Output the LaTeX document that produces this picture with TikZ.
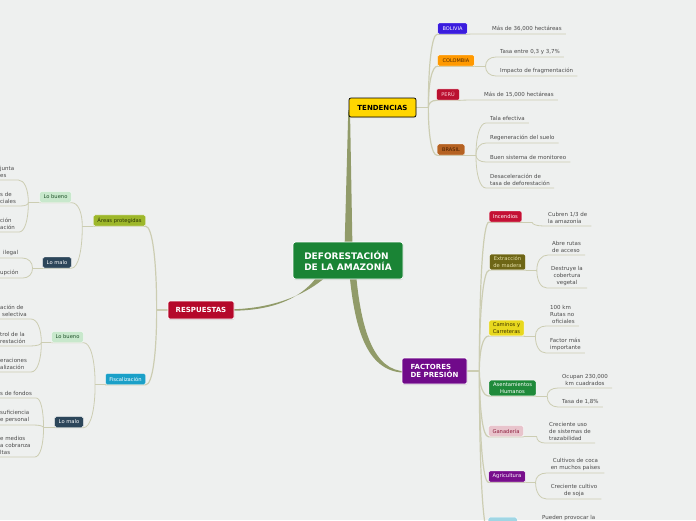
\documentclass[tikz,border=0pt]{standalone}
\usepackage{fontspec}
\setmainfont{DejaVu Sans}
\usetikzlibrary{calc,shadows}

\definecolor{bgc}{RGB}{238,240,239}
\definecolor{trunkc}{RGB}{145,155,105}
\definecolor{lnc}{RGB}{204,205,178}
\definecolor{leafc}{RGB}{75,75,75}
\definecolor{rootc}{RGB}{26,132,53}
\definecolor{tendc}{RGB}{255,214,0}
\definecolor{respc}{RGB}{181,8,42}
\definecolor{factc}{RGB}{112,10,138}
\definecolor{bolc}{RGB}{58,28,222}
\definecolor{colc}{RGB}{255,153,0}
\definecolor{perc}{RGB}{186,16,48}
\definecolor{brac}{RGB}{181,98,34}
\definecolor{incc}{RGB}{196,16,52}
\definecolor{extc}{RGB}{110,102,22}
\definecolor{camc}{RGB}{232,216,30}
\definecolor{asec}{RGB}{31,138,58}
\definecolor{ganc}{RGB}{232,196,204}
\definecolor{agrc}{RGB}{120,14,140}
\definecolor{cyac}{RGB}{160,214,228}
\definecolor{areac}{RGB}{157,183,42}
\definecolor{fisc}{RGB}{26,160,200}
\definecolor{buec}{RGB}{200,232,204}
\definecolor{malc}{RGB}{44,70,90}

\pgfdeclarelayer{bg}
\pgfsetlayers{bg,main}

\begin{document}
\begin{tikzpicture}
  [x=1pt, y=-1pt,
   root/.style={rounded corners=2.5pt, draw=white, line width=0.8pt, text=white,
     font=\fontsize{9}{11}\selectfont\bfseries, align=left,
     minimum width=110pt, minimum height=37pt,
     drop shadow={opacity=.2, shadow xshift=.4pt, shadow yshift=-1pt}},
   topic/.style={rounded corners=2pt, draw=white, line width=0.7pt, text=white,
     font=\fontsize{7}{8.5}\selectfont\bfseries, align=left,
     drop shadow={opacity=.2, shadow xshift=.4pt, shadow yshift=-1pt}},
   ctry/.style={rounded corners=1.5pt, draw=white, line width=0.4pt,
     font=\fontsize{5}{6}\selectfont, inner xsep=5pt, minimum height=11pt},
   sub/.style={rounded corners=1.5pt, draw=white, line width=0.4pt,
     font=\fontsize{5.2}{6.4}\selectfont, align=center,
     inner xsep=4pt, inner ysep=2.6pt, minimum height=11pt},
   leaf/.style={font=\fontsize{5.5}{6.8}\selectfont, text=leafc, align=left,
     inner xsep=4pt, inner ysep=2.5pt},
   bough/.style={draw=lnc, line width=1.2pt},
   twig/.style={draw=lnc, line width=0.8pt}]

  \useasboundingbox (0,0) rectangle (696,520);

  % centre and main topics
  \node[root, fill=rootc] (root) at (348,260.5) {DEFORESTACIÓN\\DE LA AMAZONÍA};
  \node[topic, fill=tendc, draw=black, text=black, align=center,
        minimum width=67pt, minimum height=19pt] (tend) at (382.5,107.5) {TENDENCIAS};
  \node[topic, fill=respc, align=center, minimum width=66pt, minimum height=18pt]
        (resp) at (201,310) {RESPUESTAS};
  \node[topic, fill=factc, minimum width=65pt, minimum height=26pt]
        (fact) at (434.5,371) {FACTORES\\DE PRESIÓN};

  % tendencias
  \node[ctry, fill=bolc, text=white] (bol) at (452.5,28.5) {BOLIVIA};
  \node[ctry, fill=colc, text={rgb,255:red,80;green,40;blue,0}] (col) at (456,60.5) {COLOMBIA};
  \node[ctry, fill=perc, text={rgb,255:red,255;green,210;blue,220}] (per) at (448,94.5) {PERÚ};
  \node[ctry, fill=brac, text={rgb,255:red,70;green,30;blue,0}] (bra) at (451,149.5) {BRASIL};

  \node[leaf, anchor=south west] (lBol) at (488,34) {Más de 36,000 hectáreas};
  \node[leaf, anchor=south west] (lCol1) at (496,57) {Tasa entre 0,3 y 3,7\%};
  \node[leaf, anchor=south west] (lCol2) at (496,76) {Impacto de fragmentación};
  \node[leaf, anchor=south west] (lPer) at (480,100) {Más de 15,000 hectáreas};
  \node[leaf, anchor=south west] (lBra1) at (486,123) {Tala efectiva};
  \node[leaf, anchor=south west] (lBra2) at (486,143) {Regeneración del suelo};
  \node[leaf, anchor=south west] (lBra3) at (486,162) {Buen sistema de monitoreo};
  \node[leaf, anchor=south west] (lBra4) at (486,188) {Desaceleración de\\tasa de deforestación};

  % factores de presion
  \node[sub, fill=incc, text=white] (inc) at (505.5,216.5) {Incendios};
  \node[sub, fill=extc, text={rgb,255:red,230;green,225;blue,170}] (ext) at (507.5,262) {Extracción\\de madera};
  \node[sub, fill=camc, text={rgb,255:red,60;green,50;blue,0}] (cam) at (506.5,328) {Caminos y\\Carreteras};
  \node[sub, fill=asec, text=white] (ase) at (512.5,388) {Asentamientos\\Humanos};
  \node[sub, fill=ganc, text={rgb,255:red,140;green,30;blue,60}] (gan) at (506,431) {Ganadería};
  \node[sub, fill=agrc, text=white] (agr) at (507,476.5) {Agricultura};
  \node[sub, fill=cyac, anchor=north west, minimum width=29pt, minimum height=14pt] (cya) at (488,517) {};

  \node[leaf, anchor=south west] (lInc) at (544,226) {Cubren 1/3 de\\la amazonía};
  \node[leaf, anchor=south west] (lExt1) at (548,255) {Abre rutas\\de acceso};
  \node[leaf, anchor=south, align=center] (lExt2) at (567,288) {Destruye la\\cobertura\\vegetal};
  \node[leaf, anchor=south west] (lCam1) at (546,326) {100 km\\Rutas no\\\hspace*{2pt}oficiales};
  \node[leaf, anchor=south west] (lCam2) at (546,353) {Factor más\\importante};
  \node[leaf, anchor=south, align=center] (lAse1) at (585,388) {Ocupan 230,000\\km cuadrados};
  \node[leaf, anchor=south west] (lAse2) at (558,407) {Tasa de 1,8\%};
  \node[leaf, anchor=south west] (lGan) at (545,443) {Creciente uso\\de sistemas de\\trazabilidad};
  \node[leaf, anchor=south, align=center] (lAgr1) at (575.5,473) {Cultivos de coca\\en muchos países};
  \node[leaf, anchor=south, align=center] (lAgr2) at (574,499) {Creciente cultivo\\de soja};
  \node[leaf, anchor=north west] (lCya) at (538,512.5) {Pueden provocar la};

  % respuestas
  \node[sub, fill=areac, text={rgb,255:red,40;green,50;blue,0}] (area) at (119.5,220.5) {Áreas protegidas};
  \node[sub, fill=fisc, text=white] (fisc) at (125.5,379) {Fiscalización};
  \node[sub, fill=buec, text={rgb,255:red,30;green,80;blue,40}] (abue) at (55.5,197) {Lo bueno};
  \node[sub, fill=malc, text=white] (amal) at (57,262.5) {Lo malo};
  \node[sub, fill=buec, text={rgb,255:red,30;green,80;blue,40}] (fbue) at (67.5,337) {Lo bueno};
  \node[sub, fill=malc, text=white] (fmal) at (69,422) {Lo malo};

  \node[leaf, anchor=south west] (lAbue1) at (-4,180) {junta\\es};
  \node[leaf, anchor=south west] (lAbue2) at (-4,206) {s de\\ciales};
  \node[leaf, anchor=south west] (lAbue3) at (-4,232) {ción\\ación};
  \node[leaf, anchor=south west] (lAmal1) at (-1,258) {ilegal};
  \node[leaf, anchor=south west] (lAmal2) at (-4,278) {upción};
  \node[leaf, anchor=south west] (lFbue1) at (-4,319) {ación de\\\hspace*{2pt}selectiva};
  \node[leaf, anchor=south west] (lFbue2) at (-4,346) {trol de la\\restación};
  \node[leaf, anchor=south west] (lFbue3) at (-4,372) {eraciones\\alización};
  \node[leaf, anchor=south west] (lFmal1) at (-4,398) {s de fondos};
  \node[leaf, anchor=south west] (lFmal2) at (-4,425) {suficiencia\\e personal};
  \node[leaf, anchor=south west] (lFmal3) at (-4,457) {e medios\\a cobranza\\ltas};

  % forks
  \coordinate (jT) at ($(tend.east)+(12,0)$);
  \coordinate (jF) at ($(fact.east)+(12,0)$);
  \coordinate (jR) at ($(resp.west)+(-11,0)$);
  \coordinate (jBol) at (bol.south east);
  \coordinate (jPer) at (per.south east);
  \coordinate (jCol) at ($(col.south east)+(11,0)$);
  \coordinate (jBra) at ($(bra.south east)+(11,0)$);
  \coordinate (jInc) at ($(inc.south east)+(10,0)$);
  \coordinate (jExt) at ($(ext.south east)+(11,0)$);
  \coordinate (jCam) at ($(cam.south east)+(11,0)$);
  \coordinate (jAse) at ($(ase.south east)+(11,0)$);
  \coordinate (jGan) at ($(gan.south east)+(13,0)$);
  \coordinate (jAgr) at ($(agr.south east)+(10,0)$);
  \coordinate (jCya) at ($(cya.south east)+(11,0)$);
  \coordinate (jArea) at ($(area.south west)+(-11,0)$);
  \coordinate (jFis) at ($(fisc.south west)+(-10,0)$);
  \coordinate (jAbue) at ($(abue.south west)+(-11,0)$);
  \coordinate (jAmal) at ($(amal.south west)+(-10,0)$);
  \coordinate (jFbue) at ($(fbue.south west)+(-10,0)$);
  \coordinate (jFmal) at ($(fmal.south west)+(-11,0)$);

  \begin{pgfonlayer}{bg}
    \fill[bgc] (0,0) rectangle (696,520);

    % tapered trunks from the centre
    \fill[trunkc] (344.5,250) -- (352.5,250) -- (350,110) -- (348.3,110) -- cycle;
    \fill[trunkc] (329,274) .. controls (305,297) and (268,309.3) .. (228,309.3)
      -- (228,310.7) .. controls (266,311.2) and (300,302) .. (319,274) -- cycle;
    \fill[trunkc] (349.5,274) .. controls (355,332) and (368,372.7) .. (406,372.7)
      -- (406,371.3) .. controls (373,371.3) and (361,328) .. (356,274) -- cycle;

    \draw[bough] (tend.east) -- (jT);
    \draw[bough] (fact.east) -- (jF);
    \draw[bough] (resp.west) -- (jR);

    % right hand side
    \foreach \fk/\ch in {jT/bol, jT/col, jT/per, jT/bra,
                         jF/inc, jF/ext, jF/cam, jF/ase, jF/gan, jF/agr, jF/cya}
      \draw[bough] (\fk) .. controls ($(\fk)!.6!(\fk|-\ch.south west)$)
        and ($(\fk|-\ch.south west)!.4!(\ch.south west)$) .. (\ch.south west) -- (\ch.south east);

    \foreach \ch/\fk in {col/jCol, bra/jBra, inc/jInc, ext/jExt, cam/jCam,
                         ase/jAse, gan/jGan, agr/jAgr, cya/jCya}
      \draw[twig] (\ch.south east) -- (\fk);

    \foreach \fk/\ch in {jBol/lBol, jCol/lCol1, jCol/lCol2, jPer/lPer,
                         jBra/lBra1, jBra/lBra2, jBra/lBra3, jBra/lBra4,
                         jInc/lInc, jExt/lExt1, jExt/lExt2, jCam/lCam1, jCam/lCam2,
                         jAse/lAse1, jAse/lAse2, jGan/lGan, jAgr/lAgr1, jAgr/lAgr2, jCya/lCya}
      \draw[twig] (\fk) .. controls ($(\fk)!.6!(\fk|-\ch.south west)$)
        and ($(\fk|-\ch.south west)!.4!(\ch.south west)$) .. (\ch.south west) -- (\ch.south east);

    % left hand side
    \foreach \fk/\ch in {jR/area, jR/fisc}
      \draw[bough] (\fk) .. controls ($(\fk)!.6!(\fk|-\ch.south east)$)
        and ($(\fk|-\ch.south east)!.4!(\ch.south east)$) .. (\ch.south east) -- (\ch.south west);

    \foreach \ch/\fk in {area/jArea, fisc/jFis, abue/jAbue, amal/jAmal, fbue/jFbue, fmal/jFmal}
      \draw[twig] (\ch.south west) -- (\fk);

    \foreach \fk/\ch in {jArea/abue, jArea/amal, jFis/fbue, jFis/fmal,
                         jAbue/lAbue1, jAbue/lAbue2, jAbue/lAbue3, jAmal/lAmal1, jAmal/lAmal2,
                         jFbue/lFbue1, jFbue/lFbue2, jFbue/lFbue3,
                         jFmal/lFmal1, jFmal/lFmal2, jFmal/lFmal3}
      \draw[twig] (\fk) .. controls ($(\fk)!.6!(\fk|-\ch.south east)$)
        and ($(\fk|-\ch.south east)!.4!(\ch.south east)$) .. (\ch.south east) -- (\ch.south west);
  \end{pgfonlayer}
\end{tikzpicture}
\end{document}
